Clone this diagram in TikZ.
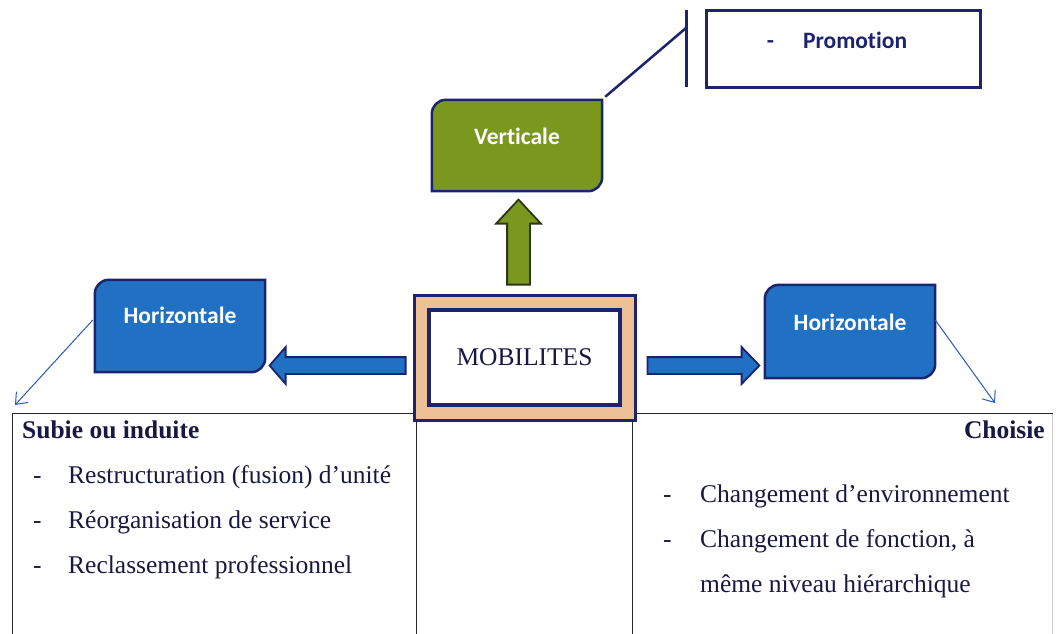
\documentclass[tikz,border=0pt]{standalone}
\usepackage{fontspec}
\setmainfont{Liberation Serif}
\newfontfamily\boxfont{Carlito}[Ligatures=NoCommon]
\usepackage{tikz}
\usetikzlibrary{arrows.meta,shapes.arrows,backgrounds}
\definecolor{navy}{RGB}{28,36,110}
\definecolor{boxblue}{RGB}{32,112,196}
\definecolor{olive}{RGB}{122,152,30}
\definecolor{oliveline}{RGB}{44,54,22}
\definecolor{peach}{RGB}{238,192,150}
\definecolor{ink}{RGB}{24,24,66}
\definecolor{thinblue}{RGB}{40,90,180}
\newcommand{\TabShape}[2]{%
  \filldraw[fill=#2,draw=navy,line width=2.5pt]
    ([yshift=-14pt]#1.north west) arc[start angle=180,end angle=90,radius=14pt]
    -- (#1.north east) -- ([yshift=14pt]#1.south east)
    arc[start angle=0,end angle=-90,radius=14pt] -- (#1.south west) -- cycle;}

\begin{document}
\begin{tikzpicture}[x=1pt,y=-1pt,>={Straight Barb[length=10pt,width=16pt]}
    ,tabbox/.style = {minimum width=170pt,text=white,font=\boxfont\bfseries\fontsize{23.5}{28}\selectfont}
    ,fatarrow/.style = {single arrow,draw=navy,line width=1.8pt,anchor=tail}
    ,cell/.style = {draw=black!85,line width=1pt,anchor=north west,inner sep=0pt,minimum height=240pt}
    ,item/.style = {anchor=base west,inner sep=0pt,text=ink,font=\fontsize{25.5}{30}\selectfont}
    ,head/.style = {item,font=\bfseries\fontsize{25.5}{30}\selectfont}
    ,thin/.style = {->,thinblue,line width=1pt}
  ]
  \useasboundingbox (0,0) rectangle (1056,633);

  % table below
  \node[cell,minimum width=404pt](subie) at (12,413){};
  \node[cell,minimum width=216pt](mid) at (416,413){};
  \node[cell,minimum width=420pt,draw=black!20](choisie) at (632,413){};
  \draw[black!85,line width=1pt] (choisie.north west) -- (choisie.north east);
  \draw[black!85,line width=1pt] (choisie.north west) -- (choisie.south west);

  \node[head](subiet) at (22,438){Subie ou induite};
  \node[item](d1) at (33,483){-};
  \node[item](r1) at (68,483){Restructuration (fusion) d’unité};
  \node[item](d2) at (33,528){-};
  \node[item](r2) at (68,528){Réorganisation de service};
  \node[item](d3) at (33,573){-};
  \node[item](r3) at (68,573){Reclassement professionnel};

  \node[head,anchor=base east](choisiet) at (1045,438){Choisie};
  \node[item](d4) at (663,502){-};
  \node[item](c1) at (700,502){Changement d’environnement};
  \node[item](d5) at (663,547){-};
  \node[item](c2) at (700,547){Changement de fonction, à};
  \node[item](c3) at (700,592){même niveau hiérarchique};

  % centre
  \node[draw=navy,line width=3pt,fill=peach,minimum width=221pt,minimum height=125pt](mob) at (524.5,357.5){};
  \node[draw=navy,line width=4pt,fill=white,minimum width=191pt,minimum height=95pt
        ,text=ink,font=\fontsize{25.5}{30}\selectfont](mobin) at (mob.center){MOBILITES};

  \node[tabbox,minimum height=91pt,text depth=19pt](vert) at (517,145.5){Verticale};
  \node[tabbox,minimum height=92pt,text depth=22pt](horl) at (180,326){Horizontale};
  \node[tabbox,minimum height=93pt,text depth=19pt](horr) at (850,331.5){Horizontale};
  \begin{scope}[on background layer]
    \TabShape{vert}{olive}
    \TabShape{horl}{boxblue}
    \TabShape{horr}{boxblue}
  \end{scope}

  \node[draw=navy,line width=3pt,minimum width=274pt,minimum height=77pt,text depth=17pt
        ,text=navy,font=\boxfont\bfseries\fontsize{23.5}{28}\selectfont](promo) at (843,48.5){-\hspace{29pt}Promotion\kern12pt};
  \coordinate (bartop) at (686,10);
  \coordinate (barbot) at (686,87);
  \coordinate (barjoin) at (686,28);
  \draw[navy,line width=3pt] (bartop) -- (barbot);
  \draw[navy,line width=2.5pt] (barjoin) -- ([shift={(3,-3)}]vert.north east);

  % fat arrows
  \node[fatarrow,fill=olive,draw=oliveline,shape border rotate=90,inner sep=10.5pt,minimum height=85pt
        ,single arrow head extend=11pt,single arrow tip angle=86](arrv) at ([xshift=-6pt,yshift=8pt]mob.north){};
  \node[fatarrow,fill=boxblue,shape border rotate=180,inner sep=7.5pt,minimum height=136pt
        ,single arrow head extend=10pt,single arrow tip angle=98](arrl) at ([xshift=-6pt,yshift=-8pt]mob.west){};
  \node[fatarrow,fill=boxblue,inner sep=7.5pt,minimum height=112pt
        ,single arrow head extend=10pt,single arrow tip angle=92](arrr) at ([xshift=10pt,yshift=-8pt]mob.east){};

  % thin arrows
  \coordinate (subiein) at (15,405);
  \coordinate (choisiein) at (995,403);
  \draw[thin] ([shift={(-2,-6)}]horl.west) -- (subiein);
  \draw[thin] ([shift={(0,-11.5)}]horr.east) -- (choisiein);
\end{tikzpicture}
\end{document}
